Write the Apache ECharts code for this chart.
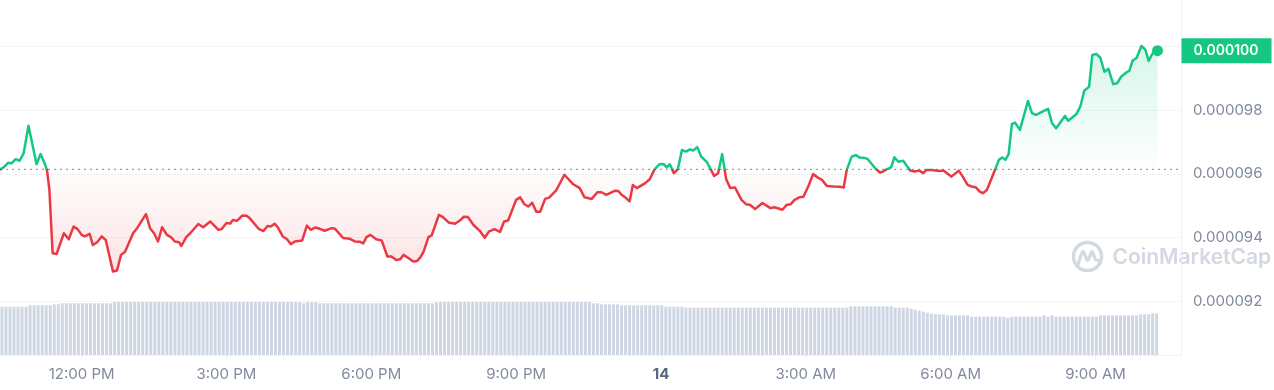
<!DOCTYPE html>
<html><head><meta charset="utf-8">
<script src="https://cdn.jsdelivr.net/npm/echarts@6/dist/echarts.min.js"></script>
<style>html,body{margin:0;padding:0;background:#fff;}#c{width:1274px;height:390px;}</style>
</head><body><div id="c"></div>
<script>
// ---- data ----
const priceTimes = [
'13 10:19','13 10:23','13 10:29','13 10:33','13 10:38','13 10:43','13 10:48','13 10:54','13 10:59','13 11:04',
'13 11:09','13 11:14','13 11:17','13 11:20','13 11:24','13 11:29','13 11:38','13 11:44','13 11:50','13 11:55',
'13 12:00','13 12:04','13 12:10','13 12:14','13 12:19','13 12:25','13 12:30','13 12:39','13 12:44','13 12:49',
'13 12:54','13 13:04','13 13:09','13 13:20','13 13:25','13 13:30','13 13:35','13 13:40','13 13:46','13 13:51',
'13 13:56','13 14:01','13 14:04','13 14:10','13 14:15','13 14:25','13 14:31','13 14:40','13 14:50','13 14:54',
'13 15:00','13 15:05','13 15:08','13 15:13','13 15:20','13 15:25','13 15:29','13 15:40','13 15:46','13 15:51',
'13 15:55','13 16:00','13 16:04','13 16:10','13 16:15','13 16:20','13 16:25','13 16:34','13 16:40','13 16:45',
'13 16:50','13 16:56','13 17:02','13 17:11','13 17:15','13 17:25','13 17:33','13 17:40','13 17:46','13 17:50',
'13 17:54','13 17:59','13 18:06','13 18:13','13 18:20','13 18:25','13 18:31','13 18:36','13 18:40','13 18:46',
'13 18:52','13 18:57','13 19:01','13 19:05','13 19:11','13 19:15','13 19:24','13 19:29','13 19:36','13 19:44',
'13 19:50','13 19:55','13 20:00','13 20:07','13 20:15','13 20:21','13 20:26','13 20:33','13 20:40','13 20:45',
'13 20:50','13 21:00','13 21:05','13 21:10','13 21:15','13 21:20','13 21:25','13 21:30','13 21:36','13 21:41',
'13 21:50','13 22:00','13 22:11','13 22:19','13 22:25','13 22:34','13 22:41','13 22:46','13 22:52','13 23:03',
'13 23:07','13 23:11','13 23:17','13 23:21','13 23:25','13 23:30','13 23:40','13 23:46','13 23:52','13 23:58',
'14 00:03','14 00:07','14 00:11','14 00:16','14 00:21','14 00:26','14 00:31','14 00:36','14 00:40','14 00:45',
'14 00:50','14 00:57','14 01:01','14 01:06','14 01:11','14 01:16','14 01:19','14 01:21','14 01:26','14 01:32',
'14 01:40','14 01:46','14 01:51','14 01:57','14 02:06','14 02:16','14 02:21','14 02:31','14 02:36','14 02:41',
'14 02:46','14 02:52','14 02:57','14 03:03','14 03:09','14 03:15','14 03:20','14 03:26','14 03:34','14 03:42',
'14 03:47','14 03:51','14 03:57','14 04:02','14 04:07','14 04:13','14 04:17','14 04:26','14 04:32','14 04:36',
'14 04:40','14 04:46','14 04:50','14 04:55','14 05:01','14 05:06','14 05:10','14 05:15','14 05:21','14 05:26',
'14 05:30','14 05:36','14 05:46','14 05:51','14 06:01','14 06:10','14 06:15','14 06:21','14 06:26','14 06:31',
'14 06:36','14 06:40','14 06:45','14 06:55','14 07:00','14 07:04','14 07:08','14 07:12','14 07:16','14 07:20',
'14 07:26','14 07:36','14 07:41','14 07:46','14 08:01','14 08:06','14 08:11','14 08:22','14 08:26','14 08:36',
'14 08:41','14 08:46','14 08:52','14 08:56','14 09:01','14 09:06','14 09:11','14 09:16','14 09:22','14 09:27',
'14 09:32','14 09:39','14 09:42','14 09:46','14 09:51','14 09:57','14 10:02','14 10:06','14 10:11','14 10:17'
];
const priceValues = [
0.00009614,0.00009620,0.00009635,0.00009633,0.00009646,0.00009641,0.00009665,0.00009751,0.00009691,0.00009630,
0.00009662,0.00009633,0.00009612,0.00009549,0.00009350,0.00009348,0.00009413,0.00009394,0.00009434,0.00009426,
0.00009408,0.00009403,0.00009411,0.00009376,0.00009384,0.00009403,0.00009392,0.00009293,0.00009296,0.00009345,
0.00009355,0.00009413,0.00009429,0.00009473,0.00009429,0.00009413,0.00009387,0.00009432,0.00009408,0.00009401,
0.00009387,0.00009385,0.00009373,0.00009401,0.00009413,0.00009442,0.00009432,0.00009450,0.00009424,0.00009426,
0.00009445,0.00009444,0.00009455,0.00009452,0.00009469,0.00009468,0.00009460,0.00009427,0.00009420,0.00009436,
0.00009434,0.00009443,0.00009431,0.00009403,0.00009395,0.00009379,0.00009387,0.00009390,0.00009437,0.00009424,
0.00009431,0.00009427,0.00009421,0.00009429,0.00009427,0.00009398,0.00009396,0.00009387,0.00009386,0.00009381,
0.00009401,0.00009408,0.00009394,0.00009390,0.00009340,0.00009340,0.00009329,0.00009331,0.00009345,0.00009335,
0.00009324,0.00009326,0.00009337,0.00009355,0.00009401,0.00009406,0.00009471,0.00009464,0.00009447,0.00009443,
0.00009453,0.00009465,0.00009464,0.00009439,0.00009420,0.00009399,0.00009418,0.00009426,0.00009417,0.00009450,
0.00009453,0.00009518,0.00009526,0.00009505,0.00009497,0.00009509,0.00009481,0.00009481,0.00009521,0.00009525,
0.00009549,0.00009597,0.00009567,0.00009555,0.00009526,0.00009521,0.00009542,0.00009542,0.00009534,0.00009547,
0.00009546,0.00009534,0.00009523,0.00009513,0.00009565,0.00009555,0.00009570,0.00009583,0.00009614,0.00009630,
0.00009631,0.00009620,0.00009630,0.00009602,0.00009615,0.00009675,0.00009670,0.00009677,0.00009673,0.00009684,
0.00009654,0.00009637,0.00009618,0.00009593,0.00009602,0.00009662,0.00009615,0.00009583,0.00009555,0.00009557,
0.00009518,0.00009504,0.00009502,0.00009489,0.00009508,0.00009492,0.00009495,0.00009487,0.00009502,0.00009504,
0.00009518,0.00009526,0.00009528,0.00009560,0.00009599,0.00009588,0.00009581,0.00009562,0.00009560,0.00009559,
0.00009557,0.00009614,0.00009654,0.00009659,0.00009651,0.00009650,0.00009646,0.00009618,0.00009604,0.00009607,
0.00009614,0.00009620,0.00009652,0.00009638,0.00009641,0.00009623,0.00009610,0.00009607,0.00009610,0.00009602,
0.00009612,0.00009612,0.00009609,0.00009610,0.00009591,0.00009610,0.00009591,0.00009565,0.00009560,0.00009558,
0.00009544,0.00009539,0.00009549,0.00009612,0.00009644,0.00009651,0.00009644,0.00009662,0.00009756,0.00009761,
0.00009738,0.00009829,0.00009791,0.00009785,0.00009804,0.00009759,0.00009743,0.00009782,0.00009767,0.00009787,
0.00009811,0.00009861,0.00009874,0.00009974,0.00009977,0.00009965,0.00009921,0.00009930,0.00009882,0.00009885,
0.00009906,0.00009920,0.00009924,0.00009956,0.00009964,0.00010002,0.00009990,0.00009955,0.00009979,0.00009987
];
const openPrice = 0.00009614;           // 24h-ago price (dotted reference line)
const volumeStart = '13 10:21';         // first volume bar
const volumeStepMinutes = 5;            // one bar every 5 minutes
const volumes = [                       // 24h volume, millions
4.83,4.83,4.83,4.83,4.83,4.83,4.83,
4.97,4.97,4.97,4.97,4.97,4.97,
5.07,5.07,
5.17,5.17,5.17,5.17,5.17,5.17,5.17,5.17,5.17,5.17,5.17,5.17,5.17,
5.30,5.30,5.30,5.30,5.30,5.30,5.30,5.30,5.30,5.30,
5.30,5.30,5.30,5.30,5.30,5.30,5.30,5.30,5.30,5.30,
5.30,5.30,5.30,5.30,5.30,5.30,5.30,5.30,5.30,5.30,
5.30,5.30,5.30,5.30,5.30,5.30,5.30,5.30,5.30,5.30,
5.30,5.30,5.30,5.30,5.30,5.30,5.30,
5.17,
5.30,5.30,5.30,
5.17,5.17,5.17,5.17,5.17,5.17,5.17,5.17,5.17,5.17,
5.17,5.17,5.17,5.17,5.17,5.17,5.17,5.17,5.17,5.17,
5.17,5.17,5.17,5.17,5.17,5.17,5.17,5.17,5.17,
5.30,5.30,5.30,5.30,5.30,5.30,5.30,5.30,5.30,5.30,
5.30,5.30,5.30,5.30,5.30,5.30,5.30,5.30,5.30,5.30,
5.30,5.30,5.30,5.30,5.30,5.30,5.30,5.30,5.30,5.30,
5.30,5.30,5.30,5.30,5.30,5.30,5.30,5.30,5.30,
5.17,5.17,
5.07,5.07,5.07,5.07,5.07,
4.97,4.97,4.97,4.97,4.97,4.97,4.97,4.97,4.97,4.97,4.97,
4.83,4.83,4.83,4.83,4.83,
4.73,4.73,4.73,4.73,4.73,4.73,4.73,4.73,4.73,4.73,
4.73,4.73,4.73,4.73,4.73,4.73,4.73,4.73,4.73,4.73,
4.73,4.73,4.73,4.73,4.73,4.73,4.73,4.73,4.73,4.73,
4.73,4.73,4.73,4.73,4.73,4.73,4.73,4.73,4.73,4.73,
4.73,
4.87,4.87,4.87,4.87,4.87,4.87,4.87,4.87,4.87,4.87,4.87,
4.73,4.73,4.73,4.73,
4.63,4.53,4.43,4.33,4.23,4.13,
4.07,4.07,4.07,
3.97,3.97,3.97,3.97,3.97,3.97,
3.83,3.83,3.83,3.83,3.83,3.83,3.83,3.83,3.83,
3.73,
3.83,3.83,3.83,3.83,3.83,3.83,3.83,3.83,
3.97,3.83,3.97,
3.83,3.83,3.83,3.83,3.83,3.83,3.83,3.83,3.83,3.83,3.83,
3.97,3.97,3.97,3.97,3.97,3.97,3.97,3.97,3.97,3.97,
4.07,4.07,4.07,
4.17,4.17
];
const xTickHours  = [12, 15, 18, 21, 24, 27, 30, 33];
const xTickLabels = ['12:00 PM','3:00 PM','6:00 PM','9:00 PM','14','3:00 AM','6:00 AM','9:00 AM'];
const watermark = 'CoinMarketCap';

// ---- helpers ----
function toHours(s) {
  const parts = s.split(' ');
  const hm = parts[1].split(':');
  return (Number(parts[0]) - 13) * 24 + Number(hm[0]) + Number(hm[1]) / 60;
}
const FONT = 'Inter, "Noto Sans", sans-serif';
const GREEN = '#16c784', RED = '#ea3943';
const X_MIN = 10.31, X_MAX = 34.77;
const Y_MIN = 0.000092, Y_MAX = 0.000102, Y_STEP = 0.000002;

const priceData = priceTimes.map((t, i) => [toHours(t), priceValues[i]]);
const lastPoint = priceData[priceData.length - 1];
const lastPrice = lastPoint[1];
const volStartH = toHours(volumeStart);
const volData = volumes.map((v, i) => [volStartH + i * volumeStepMinutes / 60, v]);

const chart = echarts.init(document.getElementById('c'));
const option = {
  animation: false,
  backgroundColor: '#ffffff',
  grid: [
    { left: 0, right: 93, top: -17, bottom: 89, containLabel: false, outerBoundsMode: 'none' },
    { left: 0, right: 93, top: 300, bottom: 35, containLabel: false, outerBoundsMode: 'none' }
  ],
  xAxis: [
    { type: 'value', gridIndex: 0, min: X_MIN, max: X_MAX, show: false },
    { type: 'value', gridIndex: 1, min: X_MIN, max: X_MAX,
      axisLine: { show: true, lineStyle: { color: '#eff2f5', width: 1 } },
      axisTick: { show: true, customValues: xTickHours, length: 4, lineStyle: { color: '#eff2f5' } },
      splitLine: { show: false },
      axisLabel: {
        customValues: xTickHours, margin: 12, color: '#808a9d', fontSize: 15, fontFamily: FONT,
        formatter: function (v) {
          const k = xTickHours.findIndex(h => Math.abs(h - v) < 1e-6);
          if (k < 0) return '';
          return xTickHours[k] === 24 ? '{b|' + xTickLabels[k] + '}' : xTickLabels[k];
        },
        rich: { b: { fontWeight: 'bold', color: '#58667e', fontSize: 15, fontFamily: FONT } }
      }
    }
  ],
  yAxis: [
    { type: 'value', gridIndex: 0, position: 'right', min: Y_MIN, max: Y_MAX, interval: Y_STEP,
      axisLine: { show: true, lineStyle: { color: '#eff2f5' } },
      axisTick: { show: false },
      splitLine: { show: true, lineStyle: { color: '#f2f4f7', width: 1 } },
      axisLabel: {
        margin: 12, color: '#808a9d', fontSize: 15, fontFamily: FONT,
        formatter: v => (v > 0.0000995 ? '' : v.toFixed(6))
      }
    },
    { type: 'value', gridIndex: 1, position: 'right', min: 0, max: 5.5,
      axisLine: { show: true, lineStyle: { color: '#eff2f5' } },
      axisTick: { show: false }, axisLabel: { show: false }, splitLine: { show: false }
    }
  ],
  graphic: [{
    type: 'group', left: 1071, top: 240, silent: true, z: 0,
    children: [
      { type: 'circle', shape: { cx: 16, cy: 16, r: 14 }, style: { fill: 'none', stroke: '#d3d8e1', lineWidth: 3.5 } },
      { type: 'polyline', shape: { points: [[7, 23], [11.5, 11], [16, 20], [20.5, 11], [24, 19], [27, 20]], smooth: 0.3 },
        style: { fill: 'none', stroke: '#d3d8e1', lineWidth: 3.2, lineCap: 'round', lineJoin: 'round' } },
      { type: 'text', x: 41, y: 17, style: { text: watermark, fill: '#d3d8e1', font: '600 21px ' + FONT, verticalAlign: 'middle' } }
    ]
  }],
  series: [
    // dotted open-price reference line across the whole plot
    { type: 'line', xAxisIndex: 0, yAxisIndex: 0, silent: true, showSymbol: false, z: 2,
      data: [[X_MIN, openPrice], [X_MAX, openPrice]],
      lineStyle: { type: [2, 4], color: '#98a1b3', width: 1.2 } },
    { id: 'price', type: 'line', xAxisIndex: 0, yAxisIndex: 0, data: priceData, showSymbol: false,
      lineStyle: { width: 2.5, join: 'round', cap: 'round', color: RED },
      areaStyle: { origin: openPrice, color: 'rgba(0,0,0,0)' },
      z: 3
    },
    // last price marker
    { type: 'scatter', xAxisIndex: 0, yAxisIndex: 0, data: [lastPoint], symbolSize: 11, clip: false,
      itemStyle: { color: GREEN, opacity: 1 }, z: 4, silent: true },
    // last price tag on the value axis
    { type: 'scatter', xAxisIndex: 0, yAxisIndex: 0, data: [[X_MAX, lastPrice]], symbolSize: 1, clip: false,
      itemStyle: { color: 'rgba(0,0,0,0)', opacity: 1 }, z: 5, silent: true,
      label: { show: true, position: 'right', distance: 0, opacity: 1,
        formatter: p => Number(p.value[1]).toFixed(6),
        backgroundColor: GREEN, color: '#ffffff', fontSize: 14, fontWeight: 600, fontFamily: FONT,
        lineHeight: 17, padding: [4, 13, 4, 12] } },
    { type: 'bar', xAxisIndex: 1, yAxisIndex: 1, data: volData, barWidth: 3, silent: true,
      itemStyle: { color: '#cfd6e4' } }
  ]
};
chart.setOption(option);

// colour split at the open price: green above, red below (line and fading area)
const yTop = chart.convertToPixel({ yAxisIndex: 0 }, 0.0001);
const yBase = chart.convertToPixel({ yAxisIndex: 0 }, openPrice);
const yBot = chart.convertToPixel({ yAxisIndex: 0 }, 0.000093);
const f = Math.min(1, Math.max(0, (yBase - yTop) / (yBot - yTop)));
const G = echarts.graphic.LinearGradient;
chart.setOption({ series: [{ id: 'price',
  lineStyle: { color: new G(0, yTop, 0, yBot, [
    { offset: 0, color: GREEN }, { offset: f, color: GREEN },
    { offset: f, color: RED }, { offset: 1, color: RED }
  ], true) },
  areaStyle: { origin: openPrice, color: new G(0, yTop, 0, yBot, [
    { offset: 0, color: 'rgba(22,199,132,0.24)' },
    { offset: f, color: 'rgba(22,199,132,0.01)' },
    { offset: f, color: 'rgba(234,57,67,0.01)' },
    { offset: 1, color: 'rgba(234,57,67,0.2)' }
  ], true) } }] });
</script>
</body></html>
